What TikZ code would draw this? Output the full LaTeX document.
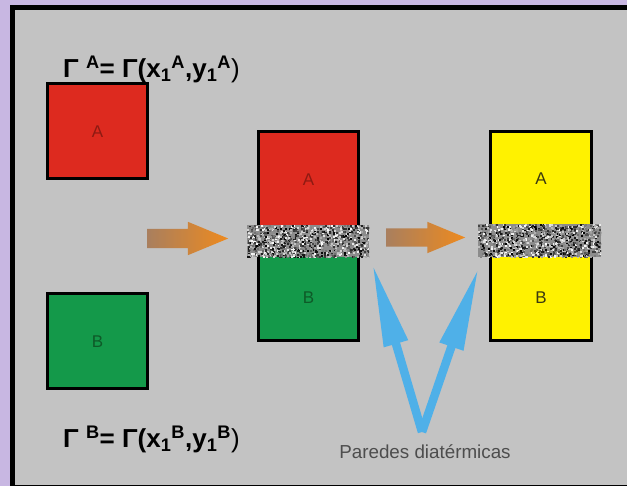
\documentclass[tikz,border=0pt]{standalone}
\usepackage{fontspec}
\setmainfont{Liberation Sans}
\usetikzlibrary{shapes.arrows,arrows.meta,positioning,calc}
\definecolor{lavbg}{HTML}{C8B7E2}
\definecolor{panelgray}{HTML}{C3C3C3}
\definecolor{boxred}{HTML}{DD2A1F}
\definecolor{txtred}{HTML}{8E1A12}
\definecolor{boxgreen}{HTML}{14994A}
\definecolor{txtgreen}{HTML}{0E5A28}
\definecolor{boxyellow}{HTML}{FFF200}
\definecolor{txtyellow}{HTML}{3B3A10}
\definecolor{arrowtail}{HTML}{A97F5E}
\definecolor{arrowhead}{HTML}{EE8A1E}
\definecolor{wallblue}{HTML}{4FB0E8}
\definecolor{labelgray}{HTML}{4D4D4D}
\tikzset{
	sysbox/.style={rectangle, draw=black, line width=3pt, inner sep=0pt,
		minimum width=100pt, font=\fontsize{17}{20}\selectfont},
	wallband/.style={rectangle, fill=black!45, inner sep=0pt},
	flowarrow/.style={single arrow, anchor=tail, inner xsep=0pt, single arrow tip angle=45,
		left color=arrowtail, right color=arrowhead, draw=none},
	wallarrow/.style={-{Triangle[length=84pt,width=23pt]}, line width=8.5pt, draw=wallblue, fill=wallblue},
	gammatxt/.style={anchor=base west, inner sep=0pt, font=\bfseries\fontsize{26}{30}\selectfont}
}
% speckled texture of a diathermic wall
\newcommand{\speckle}[3]{%
	\begin{scope}
		\clip (#1.north west) rectangle (#1.south east);
		\foreach \k in {1,...,1100}{
			\pgfmathsetmacro{\sx}{rnd}
			\pgfmathsetmacro{\sy}{rnd}
			\pgfmathsetmacro{\sl}{int(100*rnd)}
			\fill[white!\sl!black] ($(#1.north west)+(\sx*#2,\sy*#3)$) rectangle +(2,2);
		}
	\end{scope}}

\begin{document}
\begin{tikzpicture}[x=1pt,y=-1pt]
	\pgfmathsetseed{7}
	\useasboundingbox (0,0) rectangle (627,486);
	\fill[lavbg] (0,0) rectangle (627,486);
	\draw[line width=5pt, fill=panelgray] (12,8) rectangle (660,487);

	% separate systems
	\node[sysbox, fill=boxred, text=txtred, minimum height=95pt] (boxA) at (97.5,131.5) {A};
	\node[sysbox, fill=boxgreen, text=txtgreen, minimum height=95pt] (boxB) at (97.5,341.5) {B};
	\node[gammatxt] (gammaA) at (63,78) {Γ \textsuperscript{A}= Γ(x\textsubscript{1}\textsuperscript{A},y\textsubscript{1}\textsuperscript{A}\textmd{)}};
	\node[gammatxt] (gammaB) at (63,448) {Γ \textsuperscript{B}= Γ(x\textsubscript{1}\textsuperscript{B},y\textsubscript{1}\textsuperscript{B}\textmd{)}};

	% systems in contact
	\node[sysbox, fill=boxred, text=txtred, minimum height=95pt] (midA) at (308.5,179.5) {A};
	\node[sysbox, fill=boxgreen, text=txtgreen, minimum height=86pt] (midB) at (308.5,298) {B};
	\node[wallband, minimum width=122pt, minimum height=32pt] (midwall) at (308,241) {};
	\speckle{midwall}{122}{32}

	% equilibrium
	\node[sysbox, fill=boxyellow, text=txtyellow, minimum width=101pt, minimum height=95pt] (rightA) at (541,179) {A};
	\node[sysbox, fill=boxyellow, text=txtyellow, minimum width=101pt, minimum height=86pt] (rightB) at (541,298) {B};
	\node[wallband, minimum width=123pt, minimum height=33pt] (rightwall) at (539.5,240.5) {};
	\speckle{rightwall}{123}{33}

	% process arrows
	\node[flowarrow, minimum height=81pt, minimum width=33pt, inner ysep=9.5pt, single arrow head extend=7pt] (arrowone) at (147,238.5) {};
	\node[flowarrow, minimum height=79pt, minimum width=31pt, inner ysep=9pt, single arrow head extend=6.5pt] (arrowtwo) at (386,237.5) {};

	% diathermic walls
	\coordinate (vtx) at (422,432);
	\draw[wallarrow] (vtx) -- ($(midwall.south east)+(3,6)$);
	\draw[wallarrow] (vtx) -- ($(rightwall.south west)+(1,10)$);
	\node[text=labelgray, font=\fontsize{18.8}{22}\selectfont] (wallslabel) at (425,452) {Paredes diatérmicas};
\end{tikzpicture}
\end{document}
